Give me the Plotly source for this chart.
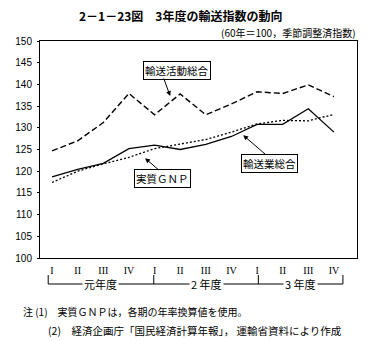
import plotly.graph_objects as go

# Quarterly index values (FY1985 = 100, seasonally adjusted)
quarters = ["I", "II", "III", "IV", "I", "II", "III", "IV", "I", "II", "III", "IV"]
fiscal_years = ["元年度", "2 年度", "3 年度"]
transport_activity = [124.7, 127.0, 131.2, 137.9, 133.0, 137.8, 133.0, 135.5, 138.3, 137.9, 139.9, 137.2]
transport_industry = [118.7, 120.4, 121.8, 125.2, 126.0, 125.0, 126.2, 128.0, 130.8, 130.8, 134.4, 129.0]
real_gnp = [117.4, 120.0, 121.7, 123.2, 125.2, 126.3, 127.3, 129.0, 130.9, 131.7, 131.6, 133.1]
y_ticks = list(range(100, 151, 5))

xs = list(range(len(quarters)))
JP = "Noto Sans CJK JP"

# Plot-area geometry in pixels, used to place the page-level texts
W, H = 374, 341
ML, MR, MT, MB = 40, 17, 41, 83
PW, PH = W - ML - MR, H - MT - MB


def px(x):
    return (x - ML) / PW


def py(y):
    return (H - MB - y) / PH


fig = go.Figure()
fig.add_trace(go.Scatter(x=xs, y=transport_activity, mode="lines",
                         line=dict(color="black", width=1.4, dash="6px,3px")))
fig.add_trace(go.Scatter(x=xs, y=real_gnp, mode="lines",
                         line=dict(color="black", width=1.3, dash="2px,2px")))
fig.add_trace(go.Scatter(x=xs, y=transport_industry, mode="lines",
                         line=dict(color="black", width=1.3)))

annotations = []


def box_label(text, x, y):
    annotations.append(dict(x=x, y=y, xref="x", yref="y", text=text, showarrow=False,
                            font=dict(family=JP, size=10.5, color="black"),
                            bgcolor="white", bordercolor="black", borderwidth=1, borderpad=1))


def arrow(x0, y0, x1, y1):
    annotations.append(dict(x=x1, y=y1, xref="x", yref="y", ax=x0, ay=y0,
                            axref="x", ayref="y", text="", showarrow=True,
                            arrowhead=2, arrowsize=1, arrowwidth=1, arrowcolor="black"))


box_label("輸送活動総合", 4.88, 143.3)
arrow(4.34, 141.7, 4.61, 137.3)
box_label("輸送業総合", 8.48, 121.7)
arrow(8.4, 123.5, 7.46, 128.3)
box_label("実質ＧＮＰ", 4.3, 118.4)
arrow(4.22, 120.0, 3.63, 123.0)

# Fiscal-year brackets under the quarter labels
bounds = [-0.15, 3.97, 8.05, 11.35]
y_line = py(284)
y_top = py(275)
shapes = [dict(type="line", xref="x", yref="paper", x0=bounds[0], x1=bounds[-1],
               y0=y_line, y1=y_line, line=dict(color="black", width=1))]
for b in bounds:
    shapes.append(dict(type="line", xref="x", yref="paper", x0=b, x1=b,
                       y0=y_top, y1=y_line, line=dict(color="black", width=1)))
for i, name in enumerate(fiscal_years):
    cx = (bounds[i] + bounds[i + 1]) / 2
    annotations.append(dict(x=cx, y=y_line, xref="x", yref="paper", yanchor="middle",
                            text=name, showarrow=False, bgcolor="white", borderpad=1,
                            font=dict(family=JP, size=11, color="black")))

# Title, unit note and footnotes
annotations.append(dict(x=px(180), y=py(15), xref="paper", yref="paper",
                        xanchor="center", yanchor="middle",
                        text="<b>2－1－23図　3年度の輸送指数の動向</b>", showarrow=False,
                        font=dict(family=JP, size=12, color="black")))
annotations.append(dict(x=px(358), y=py(33), xref="paper", yref="paper",
                        xanchor="right", yanchor="middle",
                        text="(60年＝100，季節調整済指数)", showarrow=False,
                        font=dict(family=JP, size=10, color="black")))
annotations.append(dict(x=px(21), y=py(311), xref="paper", yref="paper",
                        xanchor="left", yanchor="middle",
                        text="注 (1)　実質ＧＮＰは，各期の年率換算値を使用。", showarrow=False,
                        font=dict(family=JP, size=10, color="black")))
annotations.append(dict(x=px(46), y=py(330), xref="paper", yref="paper",
                        xanchor="left", yanchor="middle",
                        text="(2)　経済企画庁「国民経済計算年報」， 運輸省資料により作成", showarrow=False,
                        font=dict(family=JP, size=10.5, color="black")))

fig.update_layout(
    width=W, height=H,
    margin=dict(l=ML, r=MR, t=MT, b=MB, pad=0),
    paper_bgcolor="white", plot_bgcolor="white",
    showlegend=False,
    annotations=annotations,
    shapes=shapes,
    xaxis=dict(range=[-0.47, 11.9], tickmode="array", tickvals=xs, ticktext=quarters,
               showgrid=False, zeroline=False, showline=True, linecolor="black", linewidth=1,
               mirror=True, ticks="outside", ticklen=3, tickcolor="rgba(0,0,0,0)",
               tickfont=dict(family="Liberation Serif", size=10, color="black")),
    yaxis=dict(range=[100, 150], tickmode="array", tickvals=y_ticks,
               showgrid=False, zeroline=False, showline=True, linecolor="black", linewidth=1,
               mirror=True, ticks="outside", ticklen=2, tickcolor="black",
               ticklabelstandoff=3,
               tickfont=dict(family="Liberation Sans", size=10, color="black")),
)

fig.write_html("out.html")
